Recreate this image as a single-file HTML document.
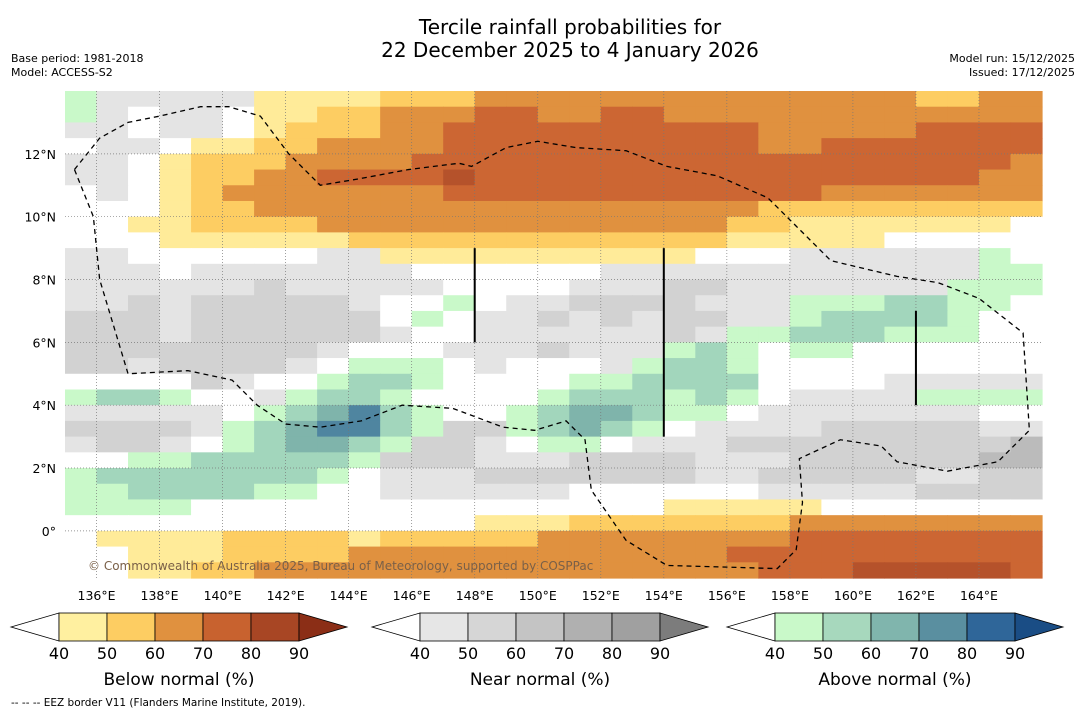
<!DOCTYPE html>
<html><head><meta charset="utf-8">
<style>
body{margin:0;background:#fff;font-family:"DejaVu Sans","Liberation Sans",sans-serif;}
svg{display:block;font-family:"DejaVu Sans","Liberation Sans",sans-serif;}
</style></head>
<body>
<svg id="chart" width="1085" height="713" viewBox="0 0 1085 713" xmlns="http://www.w3.org/2000/svg">
<rect width="1085" height="713" fill="#fff"/>
<text x="570" y="34" font-size="20" text-anchor="middle" fill="#000">Tercile rainfall probabilities for</text>
<text x="570" y="57" font-size="20" text-anchor="middle" fill="#000">22 December 2025 to 4 January 2026</text>
<text x="11" y="62" font-size="11">Base period: 1981-2018</text>
<text x="11" y="76" font-size="11">Model: ACCESS-S2</text>
<text x="1075" y="62" font-size="11" text-anchor="end">Model run: 15/12/2025</text>
<text x="1075" y="76" font-size="11" text-anchor="end">Issued: 17/12/2025</text>
<g id="map"></g>
<g id="bars"></g>
<text x="11" y="706" font-size="10.5">--  --  -- EEZ border V11 (Flanders Marine Institute, 2019).</text>
</svg>
<script>
const lonMin=135, lonMax=166, latMin=-1.5, latMax=14;
const lonTicks=[136,138,140,142,144,146,148,150,152,154,156,158,160,162,164];
const latTicks=[0,2,4,6,8,10,12];
// each row = 0.5 deg lat band from north to south, each char = 1 deg lon from 135E
const rows=[
"gnnnnnaaaabbbccccccccccccccbbcc",
"gn.nn.aabbcccddccddcccccccccccc",
"nn.nn.abbbccddddddddddcccccdddd",
".nn.aabbccccddddddddddccddddddd",
"nn.abbbccccdddddddddddddddddddc",
"nn.abbccddddeddddddddddddddddcc",
".n.abcccccccddddddddddddccccccc",
"...abbccccccccccccccccbbbbbbbbb",
"..aabbbbcccccccccccccbbaaaaaaa.",
"...aaaaaabbbbbbbbbbbbaaaaa.....",
"nn......nnaaaaaaaaaa...nnnnnng.",
"nnn.nnnnnnn......nnnnnnnnnnnngg",
"nnnnnnmnnnnn....nnnmmnnnnnnnggg",
"nnmnmmmmmn..g.nnmmmmnnnggghhgg.",
"mmmnmmmmmm.g.nnmnmnmmnnghhhhg..",
"mmmnmmmmmmn..nnnnnnmngghhhggg..",
"mmmmmmmmn...nnnmnnnghg.gg......",
"mmnmmmmn.ggg.n...nghhg.........",
"....mn..ghhg....gghhhh....nnnnn",
"ghhg..nghhg....ghhhghg.nnnngggg",
"nnnnn.ghijhg..ghiihgg.nnnnnnn..",
"mmmmnghijjhgmmghihg.nnnnmmmmmnn",
"nmmn.ghiihgmmn.gg.nnnmmmmmmmmmo",
"..gghhhhhgmmmnnnmmmmnnnmmmmmmoo",
"ghhhhhhhg.nnnmmmmmmmnnmmmmmnnmm",
"gghhhhgg..nnnnnn......nnnnnmmmm",
"gggg...............aaaaa.......",
".............aaabbbbbbbcccccccc",
".aaaabbbbabbbbbccccccccdddddddd",
"..aaabbbbccccccccccccdddddddddd",
"..aabbccccccccccccccccdddeeeeed"
];
const palette={'.':'#ffffff','a':'#ffeb99','b':'#fdcd62','c':'#e0913f','d':'#cc6633','e':'#b5522b',
'n':'#e4e4e4','m':'#d2d2d2','o':'#bbbbbb','g':'#c9f9c9','h':'#a2d6bc','i':'#7fb4ab','j':'#4f85a0'};
const belowColors=['#fff0a0','#fdcd62','#e0913f','#c8622f','#a84624','#8b2e16'];
const nearColors=['#e6e6e6','#d6d6d6','#c4c4c4','#b0b0b0','#a0a0a0','#7c7c7c'];
const aboveColors=['#c9f9c9','#a7d8bd','#80b5ad','#5a8fa0','#2f6699','#1a4d85'];
const barLabels=[40,50,60,70,80,90];
const eez=[[135.3,11.5],[136.1,12.5],[137.0,13.0],[138.0,13.2],[139.3,13.5],[140.2,13.5],[141.2,13.2],[142.1,12.0],[143.1,11.0],[144.3,11.2],[145.9,11.5],[147.5,11.7],[147.9,11.6],[149.0,12.2],[150.0,12.4],[151.2,12.2],[152.8,12.1],[154.1,11.6],[155.7,11.3],[157.3,10.6],[158.2,9.7],[159.3,8.6],[161.4,8.1],[162.7,7.9],[164.0,7.4],[165.4,6.3],[165.6,3.2],[164.6,2.2],[163.0,1.9],[161.4,2.2],[160.9,2.7],[159.6,2.9],[158.3,2.3],[158.4,0.9],[158.2,-0.6],[157.6,-1.2],[154.1,-1.1],[152.8,-0.3],[151.7,1.3],[151.5,2.9],[150.9,3.5],[149.9,3.2],[148.9,3.3],[147.3,3.9],[145.7,4.0],[144.4,3.5],[143.1,3.3],[142.0,3.4],[141.1,4.0],[140.3,4.8],[138.9,5.1],[137.0,5.0],[136.1,8.0],[135.9,10.0],[135.3,11.5]];
const segs=[[148,9,6],[154,9,3],[162,7,4]];
const X=lon=>65+(lon-lonMin)*(977/(lonMax-lonMin));
const Y=lat=>91+(latMax-lat)*(487/(latMax-latMin));
const NS='http://www.w3.org/2000/svg';
function mk(tag,attrs,parent){const e=document.createElementNS(NS,tag);for(const k in attrs)e.setAttribute(k,attrs[k]);parent.appendChild(e);return e;}
const map=document.getElementById('map');
rows.forEach((r,ri)=>{
  const lat0=latMax-ri*0.5;
  for(let ci=0;ci<31;ci++){
    const lon0=lonMin+ci;
    const c=mk('rect',{x:X(lon0),y:Y(lat0),width:X(lon0+1)-X(lon0)+0.6,height:Y(lat0-0.5)-Y(lat0)+0.6,fill:palette[r[ci]||r[r.length-1]]||'#fff'},map);
    
    
  }
});
lonTicks.forEach(l=>{
  const g=mk('line',{x1:X(l),x2:X(l),y1:91,y2:578,stroke:'#777','stroke-width':0.7,'stroke-dasharray':'1,2'},map);
  
  
  const t=mk('text',{x:X(l),y:600,'font-size':12.5,'text-anchor':'middle',fill:'#000'},map);
  t.textContent=l+'°E';
  
  
});
latTicks.forEach(l=>{
  const g=mk('line',{x1:65,x2:1042,y1:Y(l),y2:Y(l),stroke:'#777','stroke-width':0.7,'stroke-dasharray':'1,2'},map);
  
  
  const t=mk('text',{x:56,y:Y(l)+5,'font-size':12.5,'text-anchor':'end',fill:'#000'},map);
  t.textContent=l===0?'0°':l+'°N';
  
  
});
const p=mk('polyline',{points:eez.map(d=>X(d[0])+','+Y(d[1])).join(' '),fill:'none',stroke:'#000','stroke-width':1.3,'stroke-dasharray':'5,4'},map);


segs.forEach(s=>{
  const l=mk('line',{x1:X(s[0]),x2:X(s[0]),y1:Y(s[1]),y2:Y(s[2]),stroke:'#000','stroke-width':2},map);
  
  
});
const cp=mk('text',{x:88,y:570,'font-size':12,fill:'#7a6048'},map);
cp.textContent='© Commonwealth of Australia 2025, Bureau of Meteorology, supported by COSPPac';


const bars=document.getElementById('bars');
function colorbar(x0,colors,title,name){
  const w=48,y0=613,h=28;
  const g=mk('g',{},bars);
  
  
  mk('polygon',{points:`${x0},${y0+h/2} ${x0+w},${y0} ${x0+w},${y0+h}`,fill:'#fff',stroke:'#000','stroke-width':0.8},g);
  for(let i=0;i<5;i++){
    mk('rect',{x:x0+w*(i+1),y:y0,width:w,height:h,fill:colors[i],stroke:'#000','stroke-width':0.8},g);
  }
  const xe=x0+w*6;
  mk('polygon',{points:`${xe},${y0} ${xe+w},${y0+h/2} ${xe},${y0+h}`,fill:colors[5],stroke:'#000','stroke-width':0.8},g);
  barLabels.forEach((v,i)=>{
    const t=mk('text',{x:x0+w*(i+1),y:659,'font-size':16,'text-anchor':'middle'},g);
    t.textContent=v;
  });
  const t=mk('text',{x:x0+w*3.5,y:685,'font-size':17,'text-anchor':'middle'},g);
  t.textContent=title;
}
colorbar(11,belowColors,'Below normal (%)','below-normal-colorbar');
colorbar(372,nearColors,'Near normal (%)','near-normal-colorbar');
colorbar(727,aboveColors,'Above normal (%)','above-normal-colorbar');
</script>
</body></html>
